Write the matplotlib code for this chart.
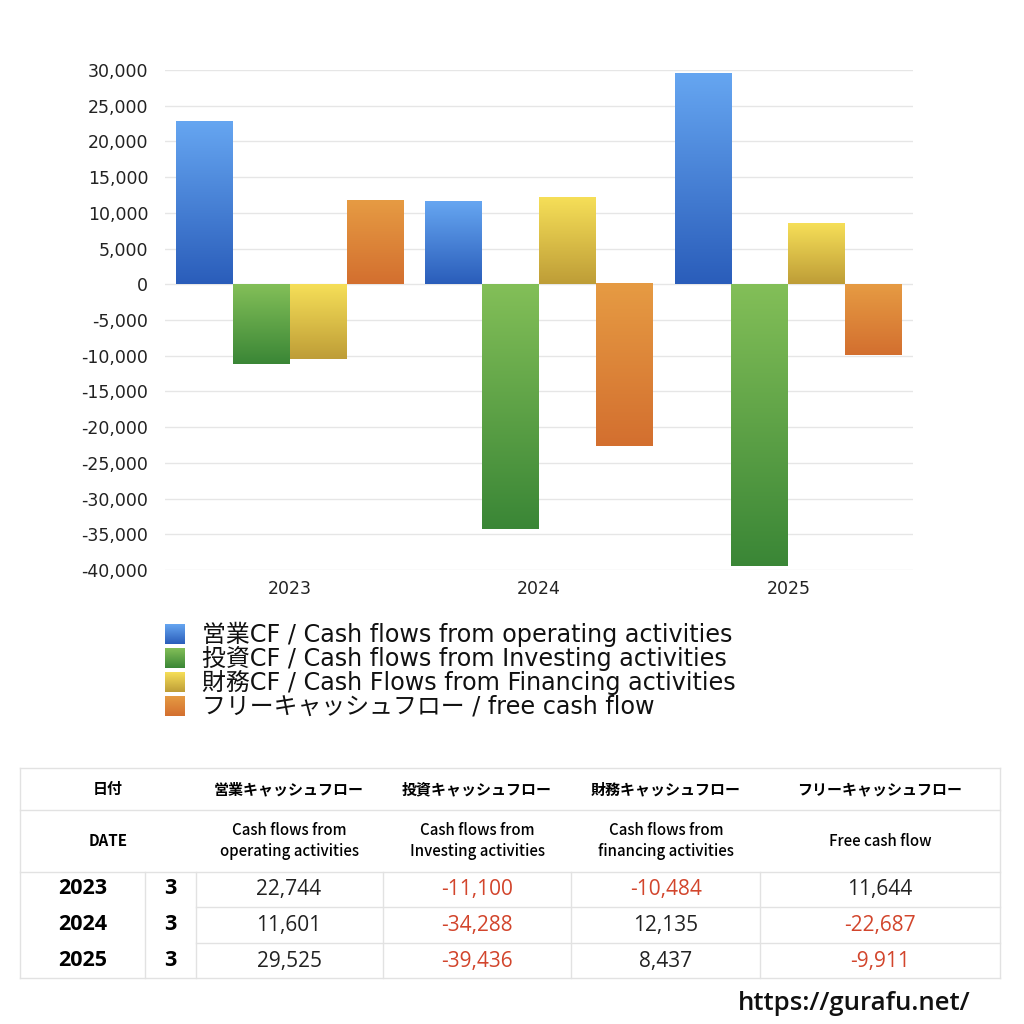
import matplotlib
matplotlib.use("Agg")
import matplotlib.pyplot as plt
import numpy as np
from matplotlib.colors import LinearSegmentedColormap
from matplotlib.lines import Line2D

plt.rcParams['font.family'] = ['Open Sans', 'Noto Sans CJK JP', 'DejaVu Sans']
JP = ['Noto Sans CJK JP', 'DejaVu Sans']
WIDE = ['DejaVu Sans', 'Noto Sans CJK JP']

# データ
years = ['2023', '2024', '2025']
months = ['3', '3', '3']
operating_cf = [22744, 11601, 29525]
investing_cf = [-11100, -34288, -39436]
financing_cf = [-10484, 12135, 8437]
free_cf = [11644, -22687, -9911]

legend_labels = [
    '営業CF / Cash flows from operating activities',
    '投資CF / Cash flows from Investing activities',
    '財務CF / Cash Flows from Financing activities',
    'フリーキャッシュフロー / free cash flow',
]
header_jp = ['営業キャッシュフロー', '投資キャッシュフロー', '財務キャッシュフロー', 'フリーキャッシュフロー']
header_en = ['Cash flows from\noperating activities', 'Cash flows from\nInvesting activities',
             'Cash flows from\nfinancing activities', 'Free cash flow']

# グラデーション (上, 下)
grads = [('#66A6F1', '#2A5DBA'), ('#83BF58', '#3A8636'), ('#F6DF58', '#BE9D37'), ('#E69B43', '#D36F2F')]
cmaps = [LinearSegmentedColormap.from_list('g%d' % i, [b, t]) for i, (t, b) in enumerate(grads)]
gradient = np.linspace(0, 1, 256).reshape(-1, 1)

W = 1024
fig = plt.figure(figsize=(10.24, 10.24), dpi=100)


def fx(px):
    return px / W


def fy(py):
    return 1 - py / W


ax = fig.add_axes([fx(165), fy(570), fx(913 - 165), (570 - 70) / W])
series = [operating_cf, investing_cf, financing_cf, free_cf]
x = np.arange(len(years))
bw = 0.228
for i, vals in enumerate(series):
    pos = x - 1.5 * bw + i * bw
    bars = ax.bar(pos, vals, bw, color='none', edgecolor='none')
    for b in bars:
        x0 = b.get_x()
        y0, y1 = sorted([b.get_y(), b.get_y() + b.get_height()])
        ax.imshow(gradient, extent=[x0, x0 + bw, y0, y1], origin='lower',
                  aspect='auto', cmap=cmaps[i], zorder=2, interpolation='bilinear')

ax.set_xlim(-0.5, 2.5)
ax.set_ylim(-40000, 30000)
yt = np.arange(-40000, 30001, 5000)
ax.set_yticks(yt)
ax.set_yticklabels([f'{v:,}' for v in yt], fontsize=12.5, color='#222222', family=WIDE)
ax.set_xticks(x)
ax.set_xticklabels(years, fontsize=12.5, color='#222222', family=WIDE)
ax.grid(axis='y', color='#e6e6e6', linewidth=1, zorder=0)
ax.set_axisbelow(True)
for s in ax.spines.values():
    s.set_visible(False)
ax.tick_params(length=0)
ax.tick_params(axis='y', pad=12)
ax.tick_params(axis='x', pad=7)

# 凡例
for i, lab in enumerate(legend_labels):
    yc = 634 + i * 24
    lax = fig.add_axes([fx(165), fy(yc + 10), fx(20), 20 / W])
    lax.imshow(gradient, origin='lower', aspect='auto', cmap=cmaps[i], extent=[0, 1, 0, 1])
    lax.axis('off')
    fig.text(fx(202), fy(yc), lab, fontsize=17.2, va='center', ha='left', color='#111111', family=WIDE)

# 表
line_c = '#e2e2e2'


def hline(y, x0=20, x1=1000):
    fig.add_artist(Line2D([fx(x0), fx(x1)], [fy(y), fy(y)], color=line_c, lw=1))


def vline(xp, y0, y1):
    fig.add_artist(Line2D([fx(xp), fx(xp)], [fy(y0), fy(y1)], color=line_c, lw=1))


hline(768)
hline(810)
hline(872)
hline(907, 196)
hline(943, 196)
hline(978)
vline(20, 768, 978)
vline(1000, 768, 978)
for xp in [145, 196, 383, 571, 760]:
    vline(xp, 872, 978)

col_cx = [289, 477, 666, 880]
fig.text(fx(108), fy(789), '日付', fontsize=10.8, fontweight='bold', ha='center', va='center', family=JP)
fig.text(fx(108), fy(841), 'DATE', fontsize=10.8, fontweight='bold', ha='center', va='center', family=JP)
for cx, hj, he in zip(col_cx, header_jp, header_en):
    fig.text(fx(cx), fy(789), hj, fontsize=10.8, fontweight='bold', ha='center', va='center', family=JP)
    fig.text(fx(cx), fy(841), he, fontsize=10.8, fontweight='medium', ha='center', va='center',
             linespacing=1.35, family=JP)

row_cy = [889, 925, 961]
for r, yc in enumerate(row_cy):
    fig.text(fx(83), fy(yc), years[r], fontsize=15.5, fontweight='bold', ha='center', va='center')
    fig.text(fx(170), fy(yc), months[r], fontsize=15.5, fontweight='bold', ha='center', va='center')
    for cx, vals in zip(col_cx, series):
        v = vals[r]
        fig.text(fx(cx), fy(yc), f'{v:,}', fontsize=15, ha='center', va='center',
                 color='#D2452C' if v < 0 else '#222222')

fig.text(fx(970), fy(1003), 'https://gurafu.net/', fontsize=18.5, fontweight='semibold',
         ha='right', va='center', color='#111111')

fig.savefig('out.png', dpi=100, facecolor='white')
